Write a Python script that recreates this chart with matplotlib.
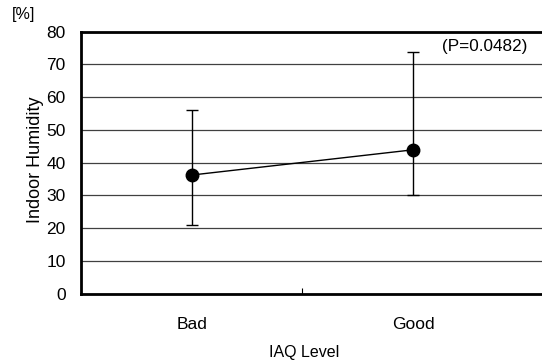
import matplotlib.pyplot as plt
import numpy as np

plt.rcParams['font.family'] = ['Liberation Sans', 'DejaVu Sans']

# Daten
levels = ["Bad", "Good"]
humidity_mean = [36.2, 43.9]
humidity_low = [21.0, 30.0]
humidity_high = [56.0, 73.8]
p_text = "(P=0.0482)"

x = np.arange(len(levels))
mean = np.array(humidity_mean)
err = [mean - np.array(humidity_low), np.array(humidity_high) - mean]

fig = plt.figure(figsize=(5.42, 3.63), dpi=100)
ax = fig.add_axes([81 / 542, 1 - 293.7 / 363, (542 - 81) / 542, (293.7 - 31.5) / 363])

ax.set_ylim(0, 80)
ax.set_yticks(np.arange(0, 81, 10))
ax.grid(axis="y", color="#404040", linewidth=0.9)
ax.set_axisbelow(True)

ax.errorbar(x, mean, yerr=err, color="black", linewidth=1.0, marker="o",
            markersize=9, capsize=4, elinewidth=1.0, capthick=1.0, zorder=3)

ax.set_xlim(-0.5, 1.583)
ax.set_xticks([0.5])
ax.set_xticklabels([""])
ax.tick_params(axis="x", direction="in", length=4, width=0.8)
ax.tick_params(axis="y", direction="in", length=0, labelsize=12.5, pad=11)
for i, lab in enumerate(levels):
    ax.text(x[i], -0.09, lab, transform=ax.get_xaxis_transform(),
            ha="center", va="top", fontsize=12.5)

for s in ["left", "top", "bottom"]:
    ax.spines[s].set_linewidth(2.0)
ax.spines["right"].set_visible(False)

ax.text(x[1] + 0.13, humidity_high[1] + 1.5, p_text, ha="left", va="center", fontsize=12.3)

fig.text(304 / 542, 1 - 352 / 363, "IAQ Level", ha="center", va="center", fontsize=11.5)
fig.text(35 / 542, 1 - 160 / 363, "Indoor Humidity", ha="center", va="center",
         rotation=90, fontsize=13)
fig.text(12 / 542, 1 - 15 / 363, "[%]", ha="left", va="center", fontsize=11.5)

fig.savefig("out.png", dpi=100)
